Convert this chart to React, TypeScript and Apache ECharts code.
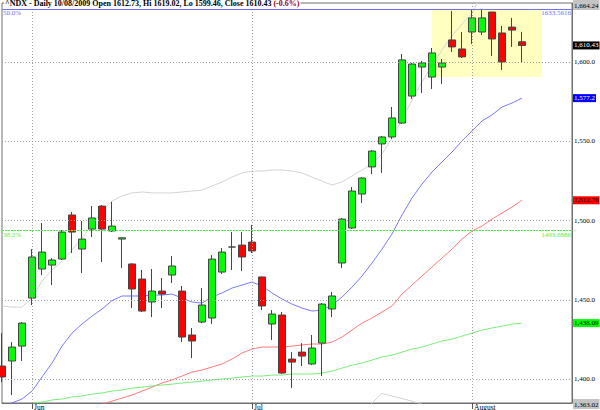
import React, { useEffect, useRef } from 'react';
import * as echarts from 'echarts';

// ---- data ----
const dates = [
  '2009-05-27', '2009-05-28', '2009-05-29',
  '2009-06-01', '2009-06-02', '2009-06-03', '2009-06-04', '2009-06-05',
  '2009-06-08', '2009-06-09', '2009-06-10', '2009-06-11', '2009-06-12',
  '2009-06-15', '2009-06-16', '2009-06-17', '2009-06-18', '2009-06-19',
  '2009-06-22', '2009-06-23', '2009-06-24', '2009-06-25', '2009-06-26',
  '2009-06-29', '2009-06-30',
  '2009-07-01', '2009-07-02',
  '2009-07-06', '2009-07-07', '2009-07-08', '2009-07-09', '2009-07-10',
  '2009-07-13', '2009-07-14', '2009-07-15', '2009-07-16', '2009-07-17',
  '2009-07-20', '2009-07-21', '2009-07-22', '2009-07-23', '2009-07-24',
  '2009-07-27', '2009-07-28', '2009-07-29', '2009-07-30', '2009-07-31',
  '2009-08-03', '2009-08-04', '2009-08-05', '2009-08-06', '2009-08-07',
  '2009-08-10',
];
// empty trading days to the right of the last candle
const futureDates = ['2009-08-11', '2009-08-12', '2009-08-13', '2009-08-14', '2009-08-17'];

// [open, close, low, high]
const ohlc = [
  [1408.2, 1401.3, 1398.0, 1429.0],
  [1411.4, 1420.2, 1389.9, 1423.3],
  [1420.8, 1435.3, 1411.4, 1436.0],
  [1451.1, 1477.0, 1446.7, 1482.0],
  [1469.4, 1480.1, 1465.6, 1498.4],
  [1471.9, 1475.1, 1459.3, 1476.3],
  [1475.7, 1492.7, 1475.1, 1494.0],
  [1503.5, 1492.7, 1479.5, 1505.4],
  [1482.0, 1488.3, 1466.9, 1499.7],
  [1494.6, 1501.6, 1489.6, 1509.1],
  [1509.1, 1494.6, 1473.8, 1509.8],
  [1493.4, 1496.5, 1492.7, 1511.7],
  [1488.3, 1489.1, 1470.0, 1489.3],
  [1472.6, 1456.8, 1444.8, 1473.0],
  [1463.1, 1442.9, 1442.3, 1468.8],
  [1448.6, 1455.5, 1439.1, 1469.4],
  [1455.5, 1453.6, 1444.8, 1463.7],
  [1465.6, 1471.3, 1460.6, 1477.6],
  [1455.5, 1426.5, 1423.3, 1458.7],
  [1427.8, 1424.0, 1413.2, 1432.2],
  [1436.0, 1446.7, 1435.3, 1457.4],
  [1438.5, 1475.7, 1434.7, 1478.2],
  [1467.5, 1480.1, 1466.3, 1482.6],
  [1483.3, 1483.3, 1468.8, 1492.7],
  [1484.5, 1477.0, 1468.1, 1492.7],
  [1486.4, 1480.8, 1479.5, 1497.2],
  [1464.4, 1446.1, 1443.5, 1464.6],
  [1434.7, 1441.0, 1424.6, 1443.5],
  [1440.4, 1403.8, 1403.2, 1442.3],
  [1412.6, 1410.7, 1394.3, 1417.0],
  [1417.0, 1414.5, 1408.2, 1422.7],
  [1409.5, 1419.6, 1408.8, 1427.8],
  [1422.7, 1447.3, 1401.9, 1448.0],
  [1444.2, 1452.4, 1439.1, 1454.9],
  [1473.2, 1500.9, 1470.0, 1501.6],
  [1495.3, 1518.6, 1494.6, 1521.1],
  [1516.7, 1526.8, 1511.0, 1527.4],
  [1533.8, 1543.8, 1529.3, 1544.5],
  [1548.3, 1552.7, 1530.0, 1553.3],
  [1552.7, 1564.7, 1551.4, 1571.6],
  [1561.5, 1601.3, 1560.9, 1605.0],
  [1578.5, 1598.7, 1576.7, 1599.4],
  [1596.8, 1599.4, 1580.4, 1600.6],
  [1590.5, 1605.7, 1583.0, 1608.8],
  [1596.8, 1599.4, 1586.1, 1601.9],
  [1613.9, 1609.5, 1606.3, 1632.2],
  [1608.2, 1603.2, 1602.5, 1618.9],
  [1618.9, 1627.8, 1611.4, 1632.8],
  [1618.9, 1627.8, 1617.0, 1632.8],
  [1631.5, 1614.5, 1603.8, 1631.6],
  [1618.3, 1600.0, 1595.0, 1622.7],
  [1622.0, 1620.1, 1609.5, 1627.8],
  [1612.73, 1610.43, 1599.46, 1619.02],
];

const upperBand = [
  1446.1, 1445.4, 1445.4, 1451.1, 1461.8, 1468.8, 1474.4, 1481.4, 1489.0, 1497.2,
  1506.0, 1512.3, 1515.5, 1517.4, 1518.0, 1517.4, 1517.4, 1517.4, 1518.0, 1518.6,
  1519.2, 1521.8, 1524.3, 1527.4, 1530.0, 1531.2, 1531.2, 1531.9, 1531.9, 1531.2,
  1530.0, 1527.4, 1524.9, 1522.4, 1524.3, 1528.1, 1531.9, 1535.6, 1542.0, 1552.1,
  1563.4, 1576.0, 1587.4, 1597.5, 1607.6, 1616.4, 1624.0, 1630.9, 1643.0, null,
  null, null, null,
];

const lowerBand = [
  null, null, null, null, null, null, null, null, null, null,
  null, null, null, null, null, null, null, null, null, null,
  null, null, null, null, null, null, null, null, null, null,
  null, null, null, null, null, null, 1378.0, 1384.9, 1391.0, 1389.3,
  1387.7, 1386.1, 1384.2, 1380.0, null, null, null, null, null, null,
  null, null, null,
];

const maBlue = [
  1382.0, 1385.0, 1387.4, 1392.4, 1401.3, 1410.1, 1420.8, 1429.0, 1434.7, 1439.7,
  1444.2, 1449.5, 1452.4, 1452.4, 1452.4, 1453.0, 1453.0, 1453.6, 1451.1, 1448.6,
  1447.9, 1451.7, 1454.3, 1457.4, 1459.3, 1461.2, 1458.7, 1454.3, 1450.5, 1447.3,
  1444.8, 1442.9, 1443.5, 1446.7, 1451.7, 1458.0, 1465.0, 1473.2, 1482.0, 1491.5,
  1503.5, 1514.2, 1523.0, 1530.6, 1536.9, 1543.2, 1550.2, 1556.5, 1562.8, 1566.6,
  1571.6, 1574.1, 1577.2,
];

const maRed = [
  null, null, null, null, null, null, null, null, null, null,
  1384.2, 1386.1, 1388.0, 1389.9, 1392.4, 1394.9, 1397.5, 1399.4, 1401.9, 1404.4,
  1405.7, 1407.6, 1409.5, 1412.6, 1416.4, 1418.9, 1420.2, 1420.2, 1420.2, 1420.8,
  1421.5, 1422.1, 1422.1, 1423.3, 1426.5, 1430.9, 1435.3, 1438.5, 1442.3, 1446.1,
  1453.6, 1459.3, 1465.0, 1470.7, 1476.3, 1482.0, 1488.3, 1493.4, 1496.5, 1500.9,
  1504.7, 1508.5, 1512.76,
];

const maGreen = [
  null, null, null, 1384.9, 1385.5, 1386.8, 1387.4, 1388.7, 1389.3, 1390.5,
  1391.2, 1392.4, 1393.1, 1394.3, 1394.9, 1395.6, 1396.2, 1396.8, 1397.5, 1398.1,
  1398.7, 1399.4, 1400.0, 1400.6, 1401.3, 1401.9, 1401.9, 1402.5, 1402.5, 1403.2,
  1403.2, 1403.2, 1403.8, 1405.0, 1406.9, 1408.8, 1410.1, 1412.0, 1413.9, 1415.1,
  1417.0, 1418.9, 1420.2, 1422.1, 1424.0, 1425.2, 1427.1, 1429.0, 1430.9, 1432.2,
  1433.4, 1434.7, 1435.3,
];

// value tags shown on the right axis
const tagTexts = { close: '1,610.43', blue: '1,577.2', red: '1,512.76', green: '1,438.09' };

const yTicks = [1400, 1450, 1500, 1550, 1600];
const yMin = 1384.9;
const yMax = 1637.2;
const cornerLabels = { top: '1,664.24', bottom: '1,363.02' };

const monthLabels: Record<string, string> = {
  '2009-06-01': 'Jun',
  '2009-07-01': 'Jul',
  '2009-08-03': 'August',
};

const fibLevels = [
  { pct: '50.0%', value: 1633.5616, color: '#6f6fff', dash: 'solid' as any },
  { pct: '38.2%', value: 1493.6886, color: '#4cf04c', dash: [2, 1] as any },
];

const highlight = { from: '2009-07-28', to: '2009-08-12', low: 1590.5, high: 1633.5616 };

// ---- chart ----
const FONT = '"Liberation Serif", "Times New Roman", serif';

function fmt(v: number, d: number) {
  return v.toLocaleString('en-US', { minimumFractionDigits: d, maximumFractionDigits: d });
}

function tagMarkLine(value: number, text: string, bg: string, fg: string) {
  return {
    silent: true,
    symbol: 'none',
    lineStyle: { color: 'rgba(0,0,0,0)', width: 1, type: 'solid' },
    data: [
      {
        yAxis: value,
        label: {
          show: true,
          position: 'end',
          distance: 1,
          formatter: text,
          backgroundColor: bg,
          color: fg,
          opacity: 1,
          padding: [1, 1, 0, 1],
          fontFamily: FONT,
          fontSize: 7,
        },
      },
    ],
  };
}

export default function App() {
  const ref = useRef<HTMLDivElement>(null);

  useEffect(() => {
    if (!ref.current) return;
    const chart = echarts.init(ref.current, null, { renderer: 'svg' });
    const categories = dates.concat(futureDates);
    const last = ohlc[ohlc.length - 1];
    const prev = ohlc[ohlc.length - 2];
    const pct = ((last[1] / prev[1] - 1) * 100).toFixed(1);
    const d = dates[dates.length - 1].split('-');
    const dateText = `${d[2]}/${d[1]}/${d[0]}`;
    const titleText =
      `{a|^NDX - Daily ${dateText} Open ${last[0]}, Hi ${last[3]}, Lo ${last[2]}, Close ${last[1]}} {r|(${pct}%)}`;
    const isMonth = (i: number) => !!monthLabels[categories[i]];
    const nulls = categories.map(() => null);

    const guideData: any[] = [];
    yTicks.forEach((v) => {
      guideData.push({
        yAxis: v,
        lineStyle: { color: '#a0a0a0', type: [1, 2], width: 1 },
        label: {
          show: true,
          position: 'end',
          distance: 2,
          formatter: fmt(v, 1),
          color: '#000',
          fontFamily: FONT,
          fontSize: 7,
        },
      });
    });
    Object.keys(monthLabels).forEach((m) => {
      guideData.push({
        xAxis: m,
        lineStyle: { color: '#a0a0a0', type: [1, 2], width: 1 },
        label: { show: false },
      });
    });
    fibLevels.forEach((f) => {
      guideData.push({
        yAxis: f.value,
        lineStyle: { color: f.color, type: f.dash, width: 1 },
        label: {
          show: true,
          position: 'insideStartBottom',
          distance: [1, 1],
          formatter: f.pct,
          color: f.color,
          fontFamily: FONT,
          fontSize: 7,
        },
      });
      guideData.push({
        yAxis: f.value,
        lineStyle: { color: f.color, type: f.dash, width: 1 },
        label: {
          show: true,
          position: 'insideEndBottom',
          distance: [1, 1],
          formatter: String(f.value),
          color: f.color,
          fontFamily: FONT,
          fontSize: 7,
        },
      });
    });

    const lineBase = {
      type: 'line',
      symbol: 'none',
      silent: true,
      z: 2,
      clip: true,
      connectNulls: false,
    };

    chart.setOption({
      animation: false,
      backgroundColor: '#fff',
      textStyle: { fontFamily: FONT },
      title: {
        text: titleText,
        left: 4,
        top: -1,
        padding: [0, 1],
        backgroundColor: '#fff',
        textStyle: {
          fontSize: 8,
          lineHeight: 9,
          rich: {
            a: { fontSize: 8, fontWeight: 'bold', color: '#000', fontFamily: FONT, lineHeight: 9 },
            r: { fontSize: 8, fontWeight: 'bold', color: '#a00000', fontFamily: FONT, lineHeight: 9 },
          },
        },
      },
      grid: {
        left: 2,
        right: 28,
        top: 3,
        bottom: 7,
        show: true,
        borderColor: '#707070',
        borderWidth: 1,
        backgroundColor: 'transparent',
        containLabel: false,
        outerBoundsMode: 'none',
      },
      xAxis: {
        type: 'category',
        data: categories,
        boundaryGap: false,
        axisLine: { show: true, lineStyle: { color: '#707070' } },
        axisTick: {
          show: true,
          interval: (i: number) => isMonth(i),
          length: 6,
          lineStyle: { color: '#555' },
        },
        axisLabel: {
          show: true,
          interval: (i: number) => isMonth(i),
          formatter: (v: string) => monthLabels[v] || '',
          align: 'left',
          margin: 0,
          padding: [0, 0, 0, 2],
          color: '#000',
          fontFamily: FONT,
          fontSize: 7.5,
        },
        splitLine: { show: false },
      },
      yAxis: {
        type: 'value',
        position: 'right',
        min: yMin,
        max: yMax,
        scale: true,
        axisLine: { show: true, lineStyle: { color: '#707070' } },
        axisTick: { show: false },
        axisLabel: { show: false },
        splitLine: { show: false },
      },
      graphic: [
        {
          type: 'text',
          left: 573,
          top: 0,
          silent: true,
          style: {
            text: cornerLabels.top,
            fill: '#000',
            fontFamily: FONT,
            fontSize: 7,
            backgroundColor: '#c4c4c4',
            padding: [2, 1, 1, 1],
          },
        },
        {
          type: 'text',
          left: 573,
          top: 399,
          silent: true,
          style: {
            text: cornerLabels.bottom,
            fill: '#000',
            fontFamily: FONT,
            fontSize: 7,
            backgroundColor: '#c4c4c4',
            padding: [2, 1, 1, 1],
          },
        },
      ],
      series: [
        {
          type: 'line',
          name: 'highlight',
          data: nulls,
          symbol: 'none',
          silent: true,
          z: 0,
          markArea: {
            silent: true,
            itemStyle: { color: '#ffffc0' },
            data: [[{ xAxis: highlight.from, yAxis: highlight.high }, { xAxis: highlight.to, yAxis: highlight.low }]],
          },
        },
        {
          type: 'line',
          name: 'guides',
          data: nulls,
          symbol: 'none',
          silent: true,
          z: 1,
          markLine: { silent: true, symbol: 'none', data: guideData },
        },
        { ...lineBase, name: 'upper', data: upperBand, lineStyle: { color: '#d4d4d4', width: 1 } },
        { ...lineBase, name: 'lower', data: lowerBand, lineStyle: { color: '#d4d4d4', width: 1 } },
        {
          ...lineBase,
          name: 'blue',
          data: maBlue,
          lineStyle: { color: '#7a7aff', width: 1 },
          markLine: tagMarkLine(maBlue[maBlue.length - 1] as number, tagTexts.blue, '#0000ff', '#fff'),
        },
        {
          ...lineBase,
          name: 'red',
          data: maRed,
          lineStyle: { color: '#ff7a7a', width: 1 },
          markLine: tagMarkLine(maRed[maRed.length - 1] as number, tagTexts.red, '#ff0000', '#000'),
        },
        {
          ...lineBase,
          name: 'green',
          data: maGreen,
          lineStyle: { color: '#7aee7a', width: 1 },
          markLine: tagMarkLine(maGreen[maGreen.length - 1] as number, tagTexts.green, '#00ff00', '#000'),
        },
        {
          type: 'candlestick',
          name: 'NDX',
          data: ohlc,
          barWidth: 7,
          clip: false,
          silent: true,
          z: 3,
          itemStyle: {
            color: '#00ff00',
            color0: '#ff0000',
            borderColor: '#454545',
            borderColor0: '#454545',
            borderColorDoji: '#454545',
            borderWidth: 1,
          },
          markLine: tagMarkLine(last[1], tagTexts.close, '#000', '#fff'),
        },
      ],
    });
    return () => chart.dispose();
  }, []);

  return (
    <div
      ref={ref}
      style={{ position: 'fixed', left: 0, top: 0, width: 600, height: 410, background: '#fff' }}
    />
  );
}
